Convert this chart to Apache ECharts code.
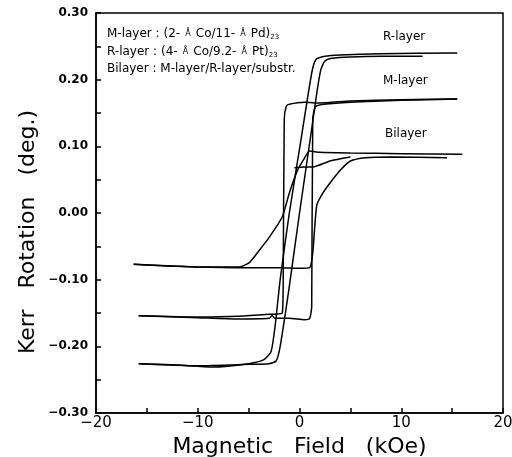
<!DOCTYPE html>
<html><head><meta charset="utf-8">
<script src="https://cdn.jsdelivr.net/npm/echarts@6/dist/echarts.min.js"></script>
<style>html,body{margin:0;padding:0;background:#fff}#c{width:512px;height:457px}</style>
</head><body><div id="c"></div>
<script>
// Magnetic field (kOe), Kerr rotation (deg.)
var rDownX = [15.5, 8, 4, 2.5, 1.6, 1.2, 0.2, -1.0, -1.9, -2.4, -2.8, -3.5, -5, -8.6, -12, -15.8];
var rDownY = [0.240, 0.239, 0.237, 0.235, 0.230, 0.210, 0.115, 0.00, -0.10, -0.170, -0.208, -0.220, -0.226, -0.231, -0.228, -0.226];
var rUpX = [-15.8, -10, -5, -3, -2.3, -1.9, -1.0, 0.0, 1.0, 1.7, 2.1, 2.5, 3.2, 5, 8, 12.1];
var rUpY = [-0.226, -0.229, -0.227, -0.226, -0.222, -0.200, -0.110, 0.00, 0.105, 0.180, 0.215, 0.228, 0.232, 0.234, 0.235, 0.235];
var mDownX = [15.5, 10, 5, 2, 0.5, -1.0, -1.3, -1.5, -1.6, -1.7, -3, -6, -10, -15.8];
var mDownY = [0.171, 0.170, 0.168, 0.165, 0.166, 0.163, 0.160, 0.140, -0.100, -0.150, -0.152, -0.155, -0.156, -0.154];
var mUpX = [-15.8, -10, -6, -3, -2.7, -2.4, -1, 0.5, 1.0, 1.2, 1.3, 1.6, 3, 6, 10, 15.5];
var mUpY = [-0.154, -0.157, -0.159, -0.158, -0.154, -0.158, -0.158, -0.160, -0.158, -0.140, 0.140, 0.160, 0.164, 0.167, 0.169, 0.171];
var bDownX = [16, 10, 5, 2, 1.0, 0.4, -0.2, -1.0, -1.7, -3.0, -4.0, -4.9, -5.9, -10, -16.3];
var bDownY = [0.088, 0.089, 0.090, 0.091, 0.093, 0.080, 0.064, 0.030, -0.006, -0.037, -0.057, -0.074, -0.081, -0.081, -0.077];
var bUpX = [-16.3, -10, -5, -2, 0, 1.0, 1.3, 1.7, 2.3, 3.0, 4.0, 5.0, 6.5, 9, 14.5];
var bUpY = [-0.077, -0.081, -0.082, -0.082, -0.083, -0.082, -0.060, 0.012, 0.030, 0.045, 0.064, 0.078, 0.083, 0.084, 0.083];
var bKinkX = [-0.5, 0.5, 1.3, 3, 5];
var bKinkY = [0.068, 0.069, 0.069, 0.078, 0.084];
var xTicks = [-20, -10, 0, 10, 20];
var yTicks = [-0.30, -0.20, -0.10, 0.00, 0.10, 0.20, 0.30];

function pairs(xs, ys){ return xs.map(function(x,i){return [x, ys[i]];}); }
function fmtY(v){ var r = Math.round(v*100); if (r % 10 !== 0) return ''; var s=(Math.abs(r)/100).toFixed(2); return r<0 ? '\u2212'+s : s; }
function fmtX(v){ var r = Math.round(v); if (xTicks.indexOf(r) < 0) return ''; return r<0 ? '\u2212'+Math.abs(r) : String(r); }

var line = {color:'#000', width:1.5};
function ser(xs, ys){ return {type:'line', data:pairs(xs, ys), showSymbol:false, smooth:0.2, lineStyle:line, silent:true, animation:false}; }

var FF = 'DejaVu Sans, Verdana, sans-serif';
var chart = echarts.init(document.getElementById('c'), null, {renderer:'canvas'});
var richA = {a:{fontSize:12, fontFamily:FF, color:'#000'}, s:{fontSize:8, fontFamily:FF, color:'#000'}, b:{fontSize:7, fontFamily:FF, color:'#000', verticalAlign:'bottom', padding:[6,0,0,0]}};
chart.setOption({
  animation:false,
  backgroundColor:'#fff',
  grid:{left:96, right:9, top:13, bottom:44, show:true, borderColor:'#000', borderWidth:1.5, backgroundColor:'transparent', containLabel:false, outerBoundsMode:'none'},
  xAxis:{type:'value', min:-20, max:20, interval:5,
    axisLine:{show:true, onZero:false, lineStyle:{color:'#000', width:1.5}},
    axisTick:{show:true, inside:true, length:5, lineStyle:{color:'#000', width:1.5}},
    splitLine:{show:false},
    axisLabel:{formatter:fmtX, color:'#000', fontSize:15, fontFamily:FF, margin:3},
    name:'Magnetic   Field   (kOe)', nameLocation:'middle', nameGap:12,
    nameTextStyle:{color:'#000', fontSize:22, fontFamily:FF}},
  yAxis:{type:'value', min:-0.30, max:0.30, interval:0.05,
    axisLine:{show:true, onZero:false, lineStyle:{color:'#000', width:1.5}},
    axisTick:{show:true, inside:true, length:5, lineStyle:{color:'#000', width:1.5}},
    splitLine:{show:false},
    axisLabel:{formatter:fmtY, color:'#000', fontSize:12, fontWeight:'bold', fontFamily:FF, margin:8}},
  series:[ser(rDownX,rDownY), ser(rUpX,rUpY), ser(mDownX,mDownY), ser(mUpX,mUpY), ser(bDownX,bDownY), ser(bUpX,bUpY), ser(bKinkX,bKinkY)],
  graphic:[
    {type:'text', x:28, y:232, rotation:Math.PI/2, style:{text:'Kerr   Rotation   (deg.)', font:'22px DejaVu Sans, Verdana, sans-serif', fill:'#000', align:'center', verticalAlign:'middle'}},
    {type:'text', left:107, top:28, style:{text:'{a|M-layer : (2-}{s|  Å  }{a|Co/11-}{s|  Å  }{a|Pd)}{b|23}', rich:richA}},
    {type:'text', left:107, top:46, style:{text:'{a|R-layer : (4-}{s|  Å  }{a|Co/9.2-}{s|  Å  }{a|Pt)}{b|23}', rich:richA}},
    {type:'text', left:107, top:63, style:{text:'Bilayer : M-layer/R-layer/substr.', font:'12px DejaVu Sans, Verdana, sans-serif', fill:'#000'}},
    {type:'text', left:383, top:31, style:{text:'R-layer', font:'12px DejaVu Sans, Verdana, sans-serif', fill:'#000'}},
    {type:'text', left:383, top:75, style:{text:'M-layer', font:'12px DejaVu Sans, Verdana, sans-serif', fill:'#000'}},
    {type:'text', left:385, top:128, style:{text:'Bilayer', font:'12px DejaVu Sans, Verdana, sans-serif', fill:'#000'}}
  ]
});
</script></body></html>
